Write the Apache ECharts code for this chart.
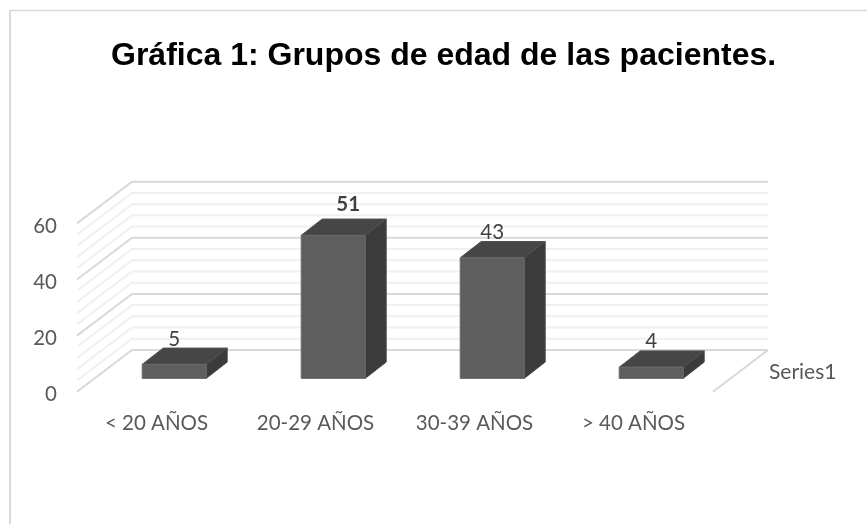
<!DOCTYPE html>
<html><head><meta charset="utf-8">
<style>html,body{margin:0;padding:0;background:#fff}#c{width:867px;height:524px}</style>
<script src="https://cdn.jsdelivr.net/npm/echarts@6/dist/echarts.min.js"></script>
</head><body><div id="c"></div>
<script>
const categories = ['< 20 AÑOS', '20-29 AÑOS', '30-39 AÑOS', '> 40 AÑOS'];
const values = [5, 51, 43, 4];
const gridValues = [0,4,8,12,16,20,24,28,32,36,40,44,48,52,56,60];
const seriesName = 'Series1';
const titleText = 'Gráfica 1: Grupos de edad de las pacientes.';

const DX = 55, DY = -41.7;          // full depth of the floor
const BX0 = 17.7, BY0 = -13.3;      // bar front plane
const BDX = 21, BDY = -16.3;        // bar depth
const BW = 64;

const chart = echarts.init(document.getElementById('c'), null, {renderer:'canvas'});
const grid = {left:77, top:223.4, width:636, height:168.3};
const font = 'Lato';
const gray = '#595959';
const fs = 20.5;

function wallItem(params, api){
  const v = api.value(0);
  const rect = params.coordSys;
  const y = api.coord([0, v])[1];
  const xl = rect.x, xr = rect.x + rect.width;
  const major = v % 20 === 0;
  const style = {stroke: major ? '#d9d9d9' : '#f0f0f0', lineWidth: 2, fill:'none'};
  const children = [
    {type:'polyline', shape:{points:[[xl,y],[xl+DX,y+DY],[xr+DX,y+DY]]}, style}
  ];
  if (v === 0) children.push({type:'line', shape:{x1:xr,y1:y,x2:xr+DX,y2:y+DY}, style});
  return {type:'group', children};
}
function barItem(params, api){
  const val = api.value(1);
  const c = api.coord([api.value(0), val]);
  const b = api.coord([api.value(0), 0]);
  const x0 = c[0] + BX0 - BW/2, x1 = x0 + BW;
  const yT = c[1] + BY0, yB = b[1] + BY0;
  const isMax = val === Math.max.apply(null, values);
  return {type:'group', children:[
    {type:'polygon', shape:{points:[[x1,yT],[x1+BDX,yT+BDY],[x1+BDX,yB+BDY],[x1,yB]]},
     style:{fill:'#3b3b3b', stroke:'#4a4a4a', lineWidth:1}},
    {type:'polygon', shape:{points:[[x0,yT],[x0+BDX,yT+BDY],[x1+BDX,yT+BDY],[x1,yT]]},
     style:{fill:'#464646', stroke:'#505050', lineWidth:1}},
    {type:'rect', shape:{x:x0,y:yT,width:BW,height:yB-yT},
     style:{fill:'#5e5e5e', stroke:'#6a6a6a', lineWidth:1}},
    {type:'text', style:{x:x0+BW/2+(isMax?15:0), y:yT+BDY-(isMax?15:9),
      text:String(val), align:'center', verticalAlign:'middle',
      font:(isMax?'bold ':'')+fs+'px '+font, fill:'#404040'}}
  ]};
}
chart.setOption({
  animation:false,
  backgroundColor:'#fff',
  title:{text:titleText, left:106, top:35,
    textStyle:{fontFamily:'Liberation Sans', fontWeight:'bold', fontSize:32, color:'#000'}},
  grid,
  xAxis:{type:'category', data:categories, axisLine:{show:false}, axisTick:{show:false},
    axisLabel:{color:gray, fontFamily:font, fontSize:fs, margin:21}},
  yAxis:{type:'value', min:0, max:60, interval:20, axisLine:{show:false}, axisTick:{show:false},
    splitLine:{show:false}, axisLabel:{color:gray, fontFamily:font, fontSize:fs, margin:20, verticalAlign:'top', lineHeight:6}},
  graphic:[
    {type:'line', silent:true, shape:{x1:10,y1:10.5,x2:867,y2:10.5}, style:{stroke:'#d9d9d9', lineWidth:1.5}},
    {type:'line', silent:true, shape:{x1:10,y1:10,x2:10,y2:524}, style:{stroke:'#d9d9d9', lineWidth:2}},
    {type:'text', left:769, top:362, style:{text:seriesName, font:'21px '+font, fill:gray}}
  ],
  series:[
    {type:'custom', coordinateSystem:'cartesian2d', renderItem:wallItem, silent:true, z:1,
      data:gridValues.map(v=>[v]), encode:{y:0}, clip:false},
    {type:'custom', coordinateSystem:'cartesian2d', renderItem:barItem, silent:true, z:2,
      data:values.map((v,i)=>[i,v]), encode:{x:0,y:1}, clip:false}
  ]
});
</script></body></html>
